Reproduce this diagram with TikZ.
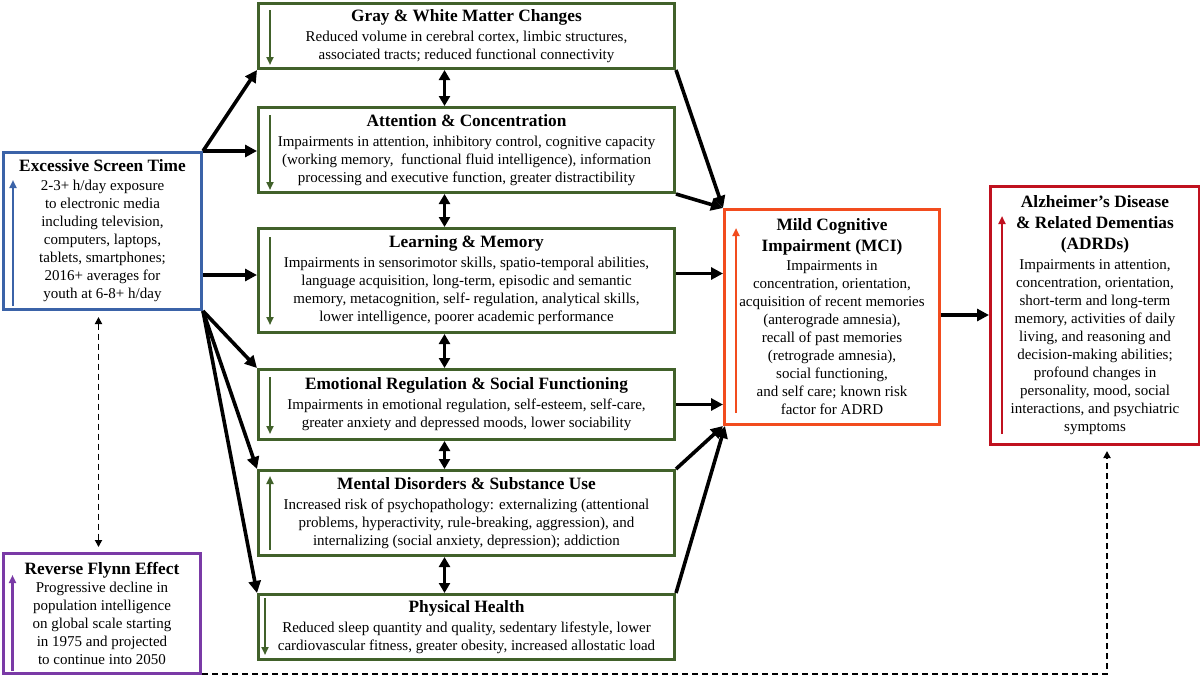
\documentclass[tikz,border=0pt]{standalone}
\usepackage{fontspec}
\setmainfont{Liberation Serif}
\usetikzlibrary{arrows.meta,calc}
\definecolor{gbox}{HTML}{41612A}
\definecolor{bbox}{HTML}{3B63A8}
\definecolor{obox}{HTML}{F24C1E}
\definecolor{rbox}{HTML}{C0111F}
\definecolor{pbox}{HTML}{7A3AA6}
\newcommand\boxtitle[1]{{\fontsize{17.3}{21}\selectfont\bfseries #1}}
\begin{document}
\begin{tikzpicture}[x=1pt,y=-1pt,
  box/.style={draw, line width=3pt, align=center, anchor=north west, inner sep=0pt,
              font=\fontsize{15}{18}\selectfont},
  gbx/.style={box, draw=gbox, minimum width=416pt},
  conn/.style={line width=3.6pt, -{Triangle[length=12pt,width=12pt]}},
  dbl/.style={line width=3.6pt, {Triangle[length=10pt,width=11pt]}-{Triangle[length=10pt,width=11pt]}},
  inarrow/.style={line width=2.3pt, -{Triangle[length=8pt,width=7pt]}},
  dsh/.style={line width=1.9pt, dash pattern=on 6pt off 4pt}]
\useasboundingbox[fill=white] (0,0) rectangle (1200,675);

% boxes
\node[box, draw=bbox, minimum width=198pt, minimum height=157pt] (est) at (2,151)
 {\boxtitle{Excessive Screen Time}\\[1pt]
  2-3+ h/day exposure\\ to electronic media\\ including television,\\ computers, laptops,\\
  tablets, smartphones;\\ 2016+ averages for\\ youth at 6-8+ h/day};
\node[box, draw=pbox, minimum width=197pt, minimum height=120pt] (fl) at (2,552)
 {\boxtitle{Reverse Flynn Effect}\\[0pt]
  Progressive decline in\\ population intelligence\\ on global scale starting\\
  in 1975 and projected\\ to continue into 2050};

\node[gbx, minimum height=65pt] (gw) at (257,2)
 {\boxtitle{Gray \& White Matter Changes}\\[2pt]
  Reduced volume in cerebral cortex, limbic structures,\\
  associated tracts; reduced functional connectivity};
\node[gbx, minimum height=85pt] (att) at (257,106)
 {\boxtitle{Attention \& Concentration}\\[2pt]
  Impairments in attention, inhibitory control, cognitive capacity\\
  (working memory,\ \ functional fluid intelligence), information\\
  processing and executive function, greater distractibility};
\node[gbx, minimum height=104pt] (lm) at (257,227)
 {\boxtitle{Learning \& Memory}\\[2pt]
  Impairments in sensorimotor skills, spatio-temporal abilities,\\
  language acquisition, long-term, episodic and semantic\\
  memory, metacognition, self- regulation, analytical skills,\\
  lower intelligence, poorer academic performance};
\node[gbx, minimum height=70pt] (emo) at (257,368)
 {\boxtitle{Emotional Regulation \& Social Functioning}\\[2pt]
  Impairments in emotional regulation, self-esteem, self-care,\\
  greater anxiety and depressed moods, lower sociability};
\node[gbx, minimum height=85pt] (men) at (257,469)
 {\boxtitle{Mental Disorders \& Substance Use}\\[2pt]
  Increased risk of psychopathology: externalizing (attentional\\
  problems, hyperactivity, rule-breaking, aggression), and\\
  internalizing (social anxiety, depression); addiction};
\node[gbx, minimum height=65pt] (phy) at (257,593)
 {\boxtitle{Physical Health}\\[2pt]
  Reduced sleep quantity and quality, sedentary lifestyle, lower\\
  cardiovascular fitness, greater obesity, increased allostatic load};

\node[box, draw=obox, minimum width=215pt, minimum height=215pt] (mci) at (723,208)
 {\boxtitle{Mild Cognitive}\\[3pt]\boxtitle{Impairment (MCI)}\\[1pt]
  Impairments in\\ concentration, orientation,\\ acquisition of recent memories\\
  (anterograde amnesia),\\ recall of past memories\\ (retrograde amnesia),\\
  social functioning,\\ and self care; known risk\\ factor for ADRD};
\node[box, draw=rbox, minimum width=209pt, minimum height=258pt] (adrd) at (989,185)
 {\boxtitle{Alzheimer’s Disease}\\[3pt]\boxtitle{\& Related Dementias}\\[3pt]\boxtitle{(ADRDs)}\\[2pt]
  Impairments in attention,\\ concentration, orientation,\\ short-term and long-term\\
  memory, activities of daily\\ living, and reasoning and\\ decision-making abilities;\\
  profound changes in\\ personality, mood, social\\ interactions, and psychiatric\\ symptoms};

% arrows inside boxes
\draw[inarrow, bbox] ([xshift=11pt,yshift=5pt]est.south west) -- ([xshift=11pt,yshift=-29pt]est.north west);
\draw[inarrow, pbox] ([xshift=10.5pt,yshift=4pt]fl.south west) -- ([xshift=10.5pt,yshift=-23pt]fl.north west);
\draw[inarrow, gbox] ([xshift=13pt,yshift=-8pt]gw.north west) -- ([xshift=13pt,yshift=5pt]gw.south west);
\draw[inarrow, gbox] ([xshift=13pt,yshift=-9pt]att.north west) -- ([xshift=13pt,yshift=4pt]att.south west);
\draw[inarrow, gbox] ([xshift=13pt,yshift=-10pt]lm.north west) -- ([xshift=13pt,yshift=9pt]lm.south west);
\draw[inarrow, gbox] ([xshift=13pt,yshift=-9pt]emo.north west) -- ([xshift=13pt,yshift=7pt]emo.south west);
\draw[inarrow, gbox] ([xshift=13pt,yshift=7pt]men.south west) -- ([xshift=13pt,yshift=-7pt]men.north west);
\draw[inarrow, gbox] ([xshift=8pt,yshift=-5pt]phy.north west) -- ([xshift=8pt,yshift=6pt]phy.south west);
\draw[inarrow, obox] ([xshift=13pt,yshift=13pt]mci.south west) -- ([xshift=13pt,yshift=-20pt]mci.north west);
\draw[inarrow, rbox] ([xshift=13pt,yshift=12pt]adrd.south west) -- ([xshift=13pt,yshift=-31pt]adrd.north west);

% connectors from screen time
\draw[conn] (est.north east) -- (gw.south west);
\draw[conn] (est.north east) -- (est.north east -| att.west);
\draw[conn] ([yshift=36pt]est.south east) coordinate (e3) -- (e3 -| lm.west);
\draw[conn] (est.south east) -- (emo.north west);
\draw[conn] (est.south east) -- (men.north west);
\draw[conn] (est.south east) -- (phy.north west);

% between middle boxes
\draw[dbl] ([xshift=-22pt]gw.south) -- ([xshift=-22pt]att.north);
\draw[dbl] ([xshift=-22pt]att.south) -- ([xshift=-22pt]lm.north);
\draw[dbl] ([xshift=-22pt]lm.south) -- ([xshift=-22pt]emo.north);
\draw[dbl] ([xshift=-22pt]emo.south) -- ([xshift=-22pt]men.north);
\draw[dbl] ([xshift=-22pt]men.south) -- ([xshift=-22pt]phy.north);

% to MCI
\draw[conn] (gw.south east) -- (mci.north west);
\draw[conn] (att.south east) -- (mci.north west);
\draw[conn] ([yshift=7pt]lm.east) coordinate (l3) -- (l3 -| mci.west);
\draw[conn] (emo.east) -- (emo.east -| mci.west);
\draw[conn] (men.north east) -- (mci.south west);
\draw[conn] (phy.north east) -- ([xshift=2pt]mci.south west);
\draw[conn] ([yshift=2pt]mci.east) coordinate (m3) -- (m3 -| adrd.west);

% dashed links
\draw[dsh, {Triangle[length=7pt,width=7pt]}-{Triangle[length=7pt,width=7pt]}, shorten <=6pt, shorten >=5pt]
  ([xshift=-4pt]est.south) -- ([xshift=-4pt]est.south |- fl.north);
\coordinate (ad) at ([xshift=12pt,yshift=-5pt]adrd.south);
\draw[dsh, -{Triangle[length=7pt,width=7pt]}] ([yshift=1pt]fl.south east) -| (ad);
\end{tikzpicture}
\end{document}
